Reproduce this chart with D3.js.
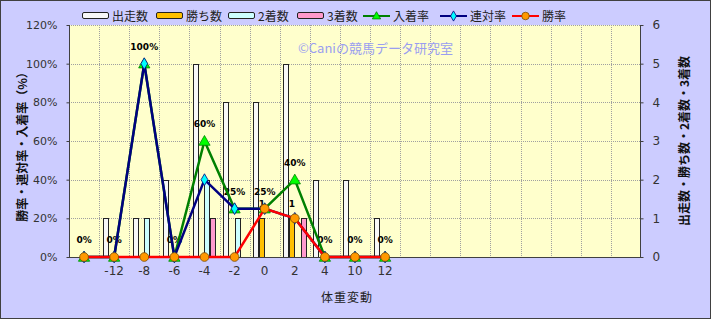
<!DOCTYPE html>
<html>
<head>
<meta charset="utf-8">
<script src="https://cdn.jsdelivr.net/npm/d3@7"></script>
<style>
  body { margin: 0; background: #fff; }
  svg { display: block; font-family: "Noto Sans CJK JP", "DejaVu Sans", sans-serif; }
</style>
</head>
<body>
<div id="chart"></div>
<script>
const width = 711;
const height = 319;

// category labels (19 slots, only 11 hold data)
const categories = ['', '-12', '-8', '-6', '-4', '-2', '0', '2', '4', '10', '12',
    '', '', '', '', '', '', '', ''];

// counts (right axis)
const runs    = [0, 1, 1, 2, 5, 4, 4, 5, 2, 2, 1];
const wins    = [0, 0, 0, 0, 0, 0, 1, 1, 0, 0, 0];
const seconds = [0, 0, 1, 0, 2, 1, 0, 0, 0, 0, 0];
const thirds  = [0, 0, 0, 0, 1, 0, 0, 1, 0, 0, 0];

// rates in % (left axis)
const placeRate   = [0, 0, 100, 0, 60, 25, 25, 40, 0, 0, 0];
const rentaiRate  = [0, 0, 100, 0, 40, 25, 25, 20, 0, 0, 0];
const winRate     = [0, 0, 0, 0, 0, 0, 25, 20, 0, 0, 0];

const leftTicks  = [0, 20, 40, 60, 80, 100, 120];
const rightTicks = [0, 1, 2, 3, 4, 5, 6];

const plot = { left: 69, right: 641, top: 25, bottom: 257 };

const svg = d3.select('#chart')
    .append('svg')
    .attr('width', width)
    .attr('height', height);

// background + frame
svg.append('rect')
    .attr('x', 0.5).attr('y', 0.5)
    .attr('width', width - 1).attr('height', height - 1)
    .attr('fill', '#ccccff')
    .attr('stroke', '#404040');

svg.append('rect')
    .attr('x', plot.left).attr('y', plot.top)
    .attr('width', plot.right - plot.left).attr('height', plot.bottom - plot.top)
    .attr('fill', '#ffffcc');

// scales
const xScale = d3.scaleBand()
    .domain(d3.range(categories.length))
    .range([plot.left, plot.right])
    .padding(0);
const step = xScale.step();

const seriesKeys = ['runs', 'wins', 'seconds', 'thirds'];
const xSub = d3.scaleBand()
    .domain(seriesKeys)
    .range([3.5, step - 3.5]);

const yLeft = d3.scaleLinear().domain([0, 120]).range([plot.bottom, plot.top]);
const yRight = d3.scaleLinear().domain([0, 6]).range([plot.bottom, plot.top]);

// gridlines
const grid = svg.append('g').attr('class', 'grid')
    .attr('stroke', '#a0a0a0')
    .attr('stroke-dasharray', '1,1')
    .attr('stroke-width', 1);

grid.selectAll('line.h')
    .data(leftTicks.filter(d => d > 0))
    .join('line')
    .attr('class', 'h')
    .attr('x1', plot.left).attr('x2', plot.right)
    .attr('y1', d => Math.round(yLeft(d)) + 0.5)
    .attr('y2', d => Math.round(yLeft(d)) + 0.5);

grid.selectAll('line.v')
    .data(d3.range(1, categories.length))
    .join('line')
    .attr('class', 'v')
    .attr('x1', d => Math.round(xScale(d)) + 0.5)
    .attr('x2', d => Math.round(xScale(d)) + 0.5)
    .attr('y1', plot.top).attr('y2', plot.bottom);

// bars
const barColors = {
    runs: '#f8f8f8',
    wins: '#ffc000',
    seconds: '#ccffff',
    thirds: '#ff99cc'
};
const barData = [];
runs.forEach((v, i) => {
    barData.push({ i, key: 'runs', v });
    barData.push({ i, key: 'wins', v: wins[i] });
    barData.push({ i, key: 'seconds', v: seconds[i] });
    barData.push({ i, key: 'thirds', v: thirds[i] });
});

svg.append('g').attr('class', 'bars')
    .selectAll('rect')
    .data(barData.filter(d => d.v > 0))
    .join('rect')
    .attr('x', d => Math.round(xScale(d.i) + xSub(d.key)) + 0.5)
    .attr('y', d => Math.round(yRight(d.v)) + 0.5)
    .attr('width', Math.round(xSub.bandwidth()) - 1)
    .attr('height', d => Math.round(yRight(0)) - Math.round(yRight(d.v)))
    .attr('fill', d => barColors[d.key])
    .attr('stroke', '#222')
    .attr('stroke-width', 1);

// axes lines
const axisColor = '#404040';
svg.append('line')
    .attr('x1', plot.left + 0.5).attr('x2', plot.left + 0.5)
    .attr('y1', plot.top).attr('y2', plot.bottom)
    .attr('stroke', axisColor);
svg.append('line')
    .attr('x1', plot.right - 0.5).attr('x2', plot.right - 0.5)
    .attr('y1', plot.top).attr('y2', plot.bottom)
    .attr('stroke', axisColor);
svg.append('line')
    .attr('x1', plot.left).attr('x2', plot.right)
    .attr('y1', plot.bottom + 0.5).attr('y2', plot.bottom + 0.5)
    .attr('stroke', axisColor);

// left axis
const leftAxis = svg.append('g')
    .attr('transform', `translate(${plot.left + 0.5},0)`)
    .call(d3.axisLeft(yLeft).tickValues(leftTicks).tickSize(3).tickPadding(9)
        .tickFormat(d => d + '%'));
leftAxis.select('.domain').remove();
leftAxis.selectAll('line').attr('stroke', axisColor);
leftAxis.selectAll('text').attr('fill', '#333')
    .attr('font-family', '"DejaVu Sans", sans-serif').attr('font-size', 11);

// right axis
const rightAxis = svg.append('g')
    .attr('transform', `translate(${plot.right - 0.5},0)`)
    .call(d3.axisRight(yRight).tickValues(rightTicks).tickSize(3).tickPadding(9)
        .tickFormat(d3.format('d')));
rightAxis.select('.domain').remove();
rightAxis.selectAll('line').attr('stroke', axisColor);
rightAxis.selectAll('text').attr('fill', '#333')
    .attr('font-family', '"DejaVu Sans", sans-serif').attr('font-size', 12);

// x axis labels
const xAxis = svg.append('g')
    .attr('transform', `translate(0,${plot.bottom})`)
    .call(d3.axisBottom(xScale).tickSize(0).tickPadding(9).tickFormat(i => categories[i]));
xAxis.select('.domain').remove();
xAxis.selectAll('text').attr('fill', '#333')
    .attr('font-family', '"DejaVu Sans", sans-serif').attr('font-size', 12);

// axis titles
svg.append('text')
    .attr('transform', `translate(27,${(plot.top + plot.bottom) / 2 + 3}) rotate(-90)`)
    .attr('text-anchor', 'middle')
    .attr('font-size', 12)
    .attr('font-weight', 600)
    .attr('fill', '#111')
    .text('勝率・連対率・入着率（%）');

svg.append('text')
    .attr('transform', `translate(689,${(plot.top + plot.bottom) / 2}) rotate(-90)`)
    .attr('text-anchor', 'middle')
    .attr('font-size', 12)
    .attr('font-weight', 600)
    .attr('fill', '#111')
    .text('出走数・勝ち数・2着数・3着数');

svg.append('text')
    .attr('x', 347).attr('y', 302)
    .attr('text-anchor', 'middle')
    .attr('font-size', 12)
    .attr('fill', '#222')
    .attr('letter-spacing', 1)
    .text('体重変動');

// watermark
svg.append('text')
    .attr('x', 298).attr('y', 53)
    .attr('font-size', 13)
    .attr('fill', '#9a9ef0')
    .text('©Caniの競馬データ研究室');

// data labels for 入着率 and 勝ち数
svg.append('g').attr('class', 'rate-labels')
    .selectAll('text')
    .data(placeRate)
    .join('text')
    .attr('x', (d, i) => xScale(i) + step / 2)
    .attr('y', d => yLeft(d) - 14)
    .attr('text-anchor', 'middle')
    .attr('font-size', 9)
    .attr('font-weight', 'bold')
    .attr('font-family', '"DejaVu Sans", sans-serif')
    .attr('fill', '#000')
    .text(d => d + '%');

svg.append('g').attr('class', 'win-labels')
    .selectAll('text')
    .data(wins.map((v, i) => ({ v, i })).filter(d => d.v > 0))
    .join('text')
    .attr('x', d => xScale(d.i) + xSub('wins') + xSub.bandwidth() / 2)
    .attr('y', d => yRight(d.v) - 11)
    .attr('text-anchor', 'middle')
    .attr('font-size', 9)
    .attr('font-weight', 'bold')
    .attr('font-family', '"DejaVu Sans", sans-serif')
    .attr('fill', '#000')
    .text(d => d.v);

// lines
const lineSeries = [
    { name: '入着率', values: placeRate, color: '#008000', marker: 'triangle', fill: '#00ff00' },
    { name: '連対率', values: rentaiRate, color: '#000080', marker: 'diamond', fill: '#00ffff' },
    { name: '勝率', values: winRate, color: '#ff0000', marker: 'circle', fill: '#ff9900' }
];

const symbolFor = {
    triangle: d3.symbol().type(d3.symbolTriangle).size(55),
    diamond: d3.symbol().type(d3.symbolDiamond).size(40),
    circle: d3.symbol().type(d3.symbolCircle).size(60)
};

const line = d3.line()
    .x((d, i) => xScale(i) + step / 2)
    .y(d => yLeft(d));

lineSeries.forEach(s => {
    const g = svg.append('g').attr('class', 'series');
    g.append('path')
        .datum(s.values)
        .attr('d', line)
        .attr('fill', 'none')
        .attr('stroke', s.color)
        .attr('stroke-width', 2.5)
        .attr('stroke-linejoin', 'round');
    g.selectAll('path.marker')
        .data(s.values)
        .join('path')
        .attr('class', 'marker')
        .attr('transform', (d, i) => `translate(${xScale(i) + step / 2},${yLeft(d) + (s.marker === 'triangle' ? 1 : 0)})`)
        .attr('d', symbolFor[s.marker])
        .attr('fill', s.fill)
        .attr('stroke', s.marker === 'circle' ? '#7a4a00' : s.color)
        .attr('stroke-width', 0.8);
});

// legend
const legendItems = [
    { name: '出走数', type: 'bar', fill: '#f8f8f8', x: 82 },
    { name: '勝ち数', type: 'bar', fill: '#ffc000', x: 156 },
    { name: '2着数', type: 'bar', fill: '#ccffff', x: 228 },
    { name: '3着数', type: 'bar', fill: '#ff99cc', x: 297 },
    { name: '入着率', type: 'line', s: lineSeries[0], x: 363 },
    { name: '連対率', type: 'line', s: lineSeries[1], x: 440 },
    { name: '勝率', type: 'line', s: lineSeries[2], x: 512 }
];

const legend = svg.append('g').attr('class', 'legend');
legendItems.forEach(item => {
    const g = legend.append('g').attr('transform', `translate(${item.x},16)`);
    if (item.type === 'bar') {
        g.append('rect')
            .attr('x', 0.5).attr('y', -3.5)
            .attr('width', 26).attr('height', 6)
            .attr('rx', 1.5)
            .attr('fill', item.fill)
            .attr('stroke', '#222');
    } else {
        g.append('line')
            .attr('x1', 0).attr('x2', 27)
            .attr('y1', 0).attr('y2', 0)
            .attr('stroke', item.s.color)
            .attr('stroke-width', 2);
        g.append('path')
            .attr('transform', `translate(13.5,${item.s.marker === 'triangle' ? 0.5 : 0})`)
            .attr('d', d3.symbol().type(
                item.s.marker === 'triangle' ? d3.symbolTriangle :
                item.s.marker === 'diamond' ? d3.symbolDiamond : d3.symbolCircle
            ).size(item.s.marker === 'circle' ? 45 : 30))
            .attr('fill', item.s.fill)
            .attr('stroke', item.s.marker === 'circle' ? '#7a4a00' : item.s.color)
            .attr('stroke-width', 0.8);
    }
    g.append('text')
        .attr('x', 30).attr('y', 4.5)
        .attr('font-size', 12)
        .attr('fill', '#222')
        .text(item.name);
});
</script>
</body>
</html>
